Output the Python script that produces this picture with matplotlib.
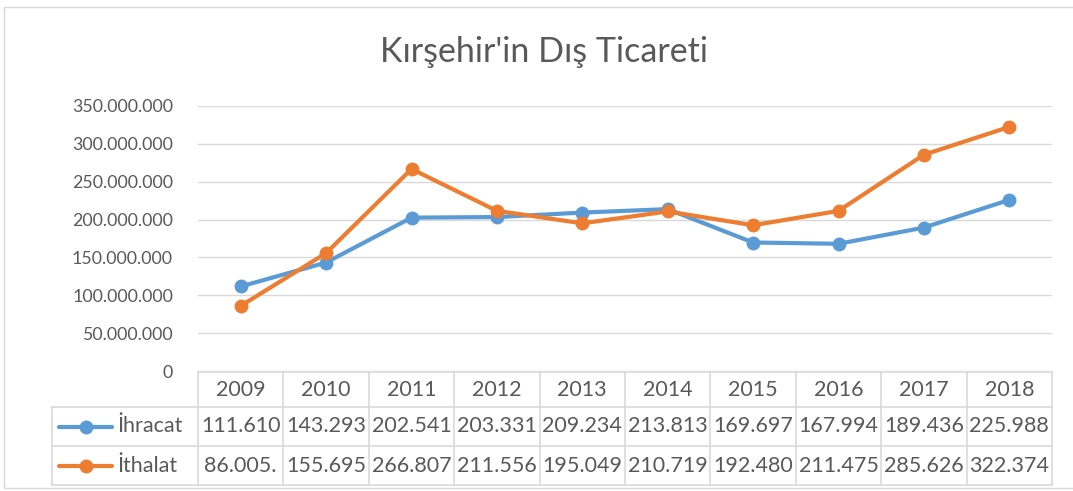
import matplotlib.pyplot as plt
from matplotlib.lines import Line2D
from matplotlib.patches import Rectangle

years = ['2009', '2010', '2011', '2012', '2013', '2014', '2015', '2016', '2017', '2018']
ihracat = [111610000, 143293000, 202541000, 203331000, 209234000,
           213813000, 169697000, 167994000, 189436000, 225988000]
ithalat = [86005000, 155695000, 266807000, 211556000, 195049000,
           210719000, 192480000, 211475000, 285626000, 322374000]
series = [('İhracat', ihracat, '#5b9bd5'), ('İthalat', ithalat, '#ed7d31')]
title = "Kırşehir'in Dış Ticareti"

plt.rcParams['font.family'] = ['Lato', 'DejaVu Sans']
txt = '#595959'
grid = '#d9d9d9'
fs = 15.5
W, H = 1073, 491


def fx(px):
    return px / W


def fy(py):
    return 1 - py / H


def dots(v):
    return f'{v:,}'.replace(',', '.')


fig = plt.figure(figsize=(W / 100, H / 100), dpi=100)
fig.patches.append(Rectangle((fx(4), fy(488)), fx(1080), fy(7) - fy(488), transform=fig.transFigure,
                             fill=False, edgecolor=grid, lw=1))

x0, x1, ytop, ybot = 198, 1052, 106, 371
ax = fig.add_axes([fx(x0), fy(ybot), fx(x1 - x0), fy(ytop) - fy(ybot)])
xs = list(range(len(years)))
for name, vals, col in series:
    ax.plot(xs, vals, color=col, lw=3, marker='o', ms=9, solid_capstyle='round')
ax.set_xlim(-0.5, len(years) - 0.5)
ax.set_ylim(0, 350000000)
ax.set_yticks(range(0, 350000001, 50000000))
ax.set_yticklabels([dots(t) for t in range(0, 350000001, 50000000)])
ax.set_xticks([])
ax.tick_params(axis='y', length=0, labelsize=12.8, labelcolor=txt, pad=18)
ax.grid(axis='y', color=grid, lw=1)
ax.set_axisbelow(True)
for s in ax.spines.values():
    s.set_visible(False)

fig.text(fx(544), fy(52), title, ha='center', va='center', fontsize=24.5, color=txt)

# data table under the plot
colw = (x1 - x0) / len(years)
rows = [372, 407, 446, 485]
lc = dict(color=grid, lw=1.2, transform=fig.transFigure)
fig.add_artist(Line2D([fx(x0), fx(x1)], [fy(rows[0])] * 2, **lc))
for r in rows[1:]:
    fig.add_artist(Line2D([fx(52), fx(x1)], [fy(r)] * 2, **lc))
for i in range(len(years) + 1):
    fig.add_artist(Line2D([fx(x0 + i * colw)] * 2, [fy(rows[0]), fy(rows[3])], **lc))
fig.add_artist(Line2D([fx(52)] * 2, [fy(rows[1]), fy(rows[3])], **lc))

for i, yr in enumerate(years):
    fig.text(fx(x0 + (i + 0.5) * colw), fy((rows[0] + rows[1]) / 2), yr,
             ha='center', va='center', fontsize=fs, color=txt)
for k, (name, vals, col) in enumerate(series):
    yc = fy((rows[k + 1] + rows[k + 2]) / 2)
    fig.add_artist(Line2D([fx(59), fx(112)], [yc, yc], color=col, lw=3, solid_capstyle='round',
                          transform=fig.transFigure))
    fig.add_artist(Line2D([fx(85.5)], [yc], color=col, marker='o', ms=9,
                          transform=fig.transFigure))
    fig.text(fx(117), yc, name, ha='left', va='center', fontsize=fs, color=txt)
    for i, v in enumerate(vals):
        fig.text(fx(x0 + (i + 0.5) * colw), yc, dots(v)[:7],
                 ha='center', va='center', fontsize=fs, color=txt)

fig.savefig('out.png', dpi=100)
